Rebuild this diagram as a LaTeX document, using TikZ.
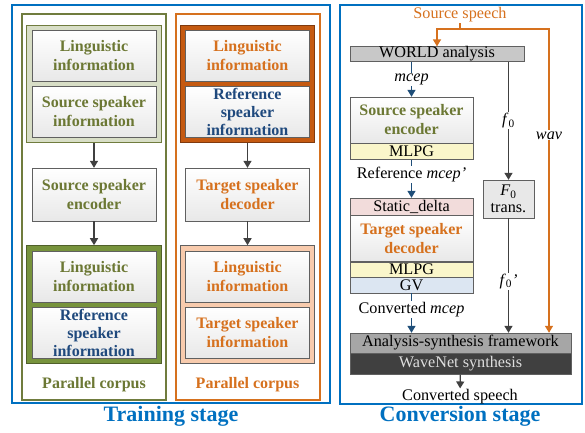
\documentclass[tikz,border=0pt]{standalone}
\usepackage{fontspec}
\setmainfont{Liberation Serif}
\usetikzlibrary{arrows.meta,positioning,fit,backgrounds}

\definecolor{stage_blue}{RGB}{0,112,192}
\definecolor{olive_text}{RGB}{108,120,52}
\definecolor{olive_line}{RGB}{112,124,62}
\definecolor{olive_light}{RGB}{216,222,198}
\definecolor{olive_dark}{RGB}{119,147,60}
\definecolor{olive_edge}{RGB}{80,96,42}
\definecolor{orange_text}{RGB}{214,113,30}
\definecolor{orange_dark}{RGB}{197,90,17}
\definecolor{orange_edge}{RGB}{128,58,14}
\definecolor{orange_light}{RGB}{248,203,173}
\definecolor{ref_blue}{RGB}{31,73,125}
\definecolor{arrow_blue}{RGB}{31,78,121}
\definecolor{arrow_gray}{RGB}{64,64,64}
\definecolor{box_gray}{RGB}{96,96,96}
\definecolor{world_gray}{RGB}{200,200,200}
\definecolor{mlpg_yellow}{RGB}{250,246,202}
\definecolor{static_pink}{RGB}{242,220,219}
\definecolor{gv_blue}{RGB}{220,230,242}
\definecolor{f0_gray}{RGB}{232,232,232}
\definecolor{asf_gray}{RGB}{166,166,166}
\definecolor{wn_dark}{RGB}{64,64,64}
\definecolor{wn_text}{RGB}{222,222,222}

\newcommand\boxfont{\fontsize{16}{19}\selectfont\bfseries}
\newcommand\plainfont{\fontsize{16.2}{17}\selectfont}

\begin{document}
\begin{tikzpicture}[x = 1pt, y = -1pt,
		info_node/.style = {rectangle, draw = box_gray, top color = white, bottom color = gray!18, minimum width = 124pt, minimum height = 51pt, inner sep = 0pt, align = center, font = \boxfont},
		strip_node/.style = {rectangle, draw = box_gray, minimum width = 123pt, inner sep = 0pt, font = \plainfont},
		group_node/.style = {rectangle, inner sep = 5pt, line width = 1.2pt},
		corpus_node/.style = {font = \boxfont},
		stage_node/.style = {font = \fontsize{22}{22}\selectfont\bfseries, text = stage_blue},
		plain_node/.style = {font = \plainfont, inner sep = 1pt},
		label_node/.style = {fill = white, font = \plainfont, inner sep = 1pt},
		gray_arrow/.style = {draw = arrow_gray, line width = 1.3pt, -{Triangle[width = 8pt, length = 7pt]}},
		blue_arrow/.style = {draw = arrow_blue, line width = 1.3pt, -{Triangle[width = 8pt, length = 7pt]}},
		orange_line/.style = {draw = orange_text, line width = 1.3pt},
		orange_arrow/.style = {orange_line, -{Triangle[width = 8pt, length = 7pt]}},
		]
		\useasboundingbox (0,0) rectangle (585,432);

		%stages
		\draw[stage_blue, line width = 1.8pt] (12,5) rectangle (330,403);
		\draw[stage_blue, line width = 1.8pt] (340,5) rectangle (582,404);
		\node[stage_node] (train_lbl) at (171,416) {Training stage};
		\node[stage_node] (conv_lbl) at (460,416) {Conversion stage};

		%encoder side
		\draw[olive_line, line width = 1.2pt] (22,14) rectangle (166,400);
		\node[info_node, text = olive_text] (l_ling) at (94,56) {Linguistic\\information};
		\node[info_node, text = olive_text] (l_src) at (94,112) {Source speaker\\information};
		\node[info_node, text = olive_text, minimum height = 53pt] (l_enc) at (94,194.5) {Source speaker\\encoder};
		\node[info_node, text = olive_text] (l_ling2) at (94,276.5) {Linguistic\\information};
		\node[info_node, text = ref_blue, font = \fontsize{16}{18}\selectfont\bfseries] (l_ref) at (94,332.5) {Reference\\speaker\\information};
		\node[corpus_node, text = olive_text] (l_corpus) at (94,385) {Parallel corpus};

		%decoder side
		\draw[orange_text, line width = 1.3pt] (176,14) rectangle (320,400);
		\node[info_node, text = orange_text] (o_ling) at (247.5,56) {Linguistic\\information};
		\node[info_node, text = ref_blue, font = \fontsize{16}{18}\selectfont\bfseries] (o_ref) at (247.5,112) {Reference\\speaker\\information};
		\node[info_node, text = orange_text, minimum height = 53pt] (o_dec) at (247.5,194.5) {Target speaker\\decoder};
		\node[info_node, text = orange_text] (o_ling2) at (247.5,276.5) {Linguistic\\information};
		\node[info_node, text = orange_text] (o_tgt) at (247.5,332.5) {Target speaker\\information};
		\node[corpus_node, text = orange_text] (o_corpus) at (247.5,385) {Parallel corpus};

		\begin{scope}[on background layer]
			\node[group_node, fit = (l_ling)(l_src), fill = olive_light, draw = olive_line] (l_top) {};
			\node[group_node, fit = (l_ling2)(l_ref), fill = olive_dark, draw = olive_edge] (l_bot) {};
			\node[group_node, fit = (o_ling)(o_ref), fill = orange_dark, draw = orange_edge] (o_top) {};
			\node[group_node, fit = (o_ling2)(o_tgt), fill = orange_light, draw = box_gray] (o_bot) {};
		\end{scope}

		\draw[gray_arrow] (l_top) -- (l_enc);
		\draw[gray_arrow] (l_enc) -- (l_bot);
		\draw[gray_arrow] (o_top) -- (o_dec);
		\draw[gray_arrow] (o_dec) -- (o_bot);

		%conversion
		\node[plain_node, text = orange_text] (src_sp) at (460,14.5) {Source speech};
		\node[strip_node, fill = world_gray, minimum width = 174pt, minimum height = 14pt] (world) at (437,54) {WORLD analysis};
		\node[info_node, text = olive_text, minimum width = 123pt, minimum height = 46pt] (r_enc) at (411.5,120) {Source speaker\\encoder};
		\node[strip_node, fill = mlpg_yellow, below = 0pt of r_enc, minimum height = 16pt] (mlpg_a) {MLPG};
		\node[strip_node, fill = static_pink, minimum height = 17pt] (static) at (411.5,206.5) {Static\_delta};
		\node[info_node, text = orange_text, below = 0pt of static, minimum width = 123pt, minimum height = 46pt] (r_dec) {Target speaker\\decoder};
		\node[strip_node, fill = mlpg_yellow, below = 0pt of r_dec, minimum height = 15pt] (mlpg_b) {MLPG};
		\node[strip_node, fill = gv_blue, below = 0pt of mlpg_b, minimum height = 16pt] (gv) {GV};
		\node[rectangle, draw = box_gray, fill = f0_gray, minimum width = 51pt, minimum height = 38pt, inner sep = 0pt, align = center, font = \plainfont] (f0box) at (508.5,199) {\textit{F}\textsubscript{0}\\trans.};
		\node[strip_node, fill = asf_gray, minimum width = 221pt, minimum height = 20pt] (asf) at (460.5,343) {Analysis-synthesis framework};
		\node[strip_node, fill = wn_dark, text = wn_text, below = 0pt of asf, minimum width = 221pt, minimum height = 21pt] (wavenet) {WaveNet synthesis};
		\node[plain_node] (conv_sp) at (460,397) {Converted speech};

		\coordinate (split) at (460,29);
		\coordinate (wav_turn) at (549,29);
		\draw[orange_line] (src_sp) -- (split);
		\draw[orange_arrow] (split) -| (world.north);
		\draw[orange_arrow] (split) -- (wav_turn) -- node[label_node, pos = 0.35] {\textit{wav}} (wav_turn |- asf.north);

		\draw[blue_arrow] (world.south -| r_enc.north) -- node[label_node] {\textit{mcep}} (r_enc.north);
		\draw[blue_arrow] (mlpg_a) -- node[label_node, pos = 0.4] {Reference \textit{mcep'}} (static);
		\draw[blue_arrow] (gv) -- node[label_node, pos = 0.4] {Converted \textit{mcep}} (gv.south |- asf.north);
		\draw[gray_arrow] (world.south -| f0box.north) -- node[label_node] {\textit{f}\textsubscript{0}} (f0box);
		\draw[gray_arrow] (f0box) -- node[label_node, pos = 0.55] {\textit{f}\textsubscript{0}\textit{'}} (f0box.south |- asf.north);
		\draw[gray_arrow] (wavenet) -- (conv_sp);

\end{tikzpicture}
\end{document}
